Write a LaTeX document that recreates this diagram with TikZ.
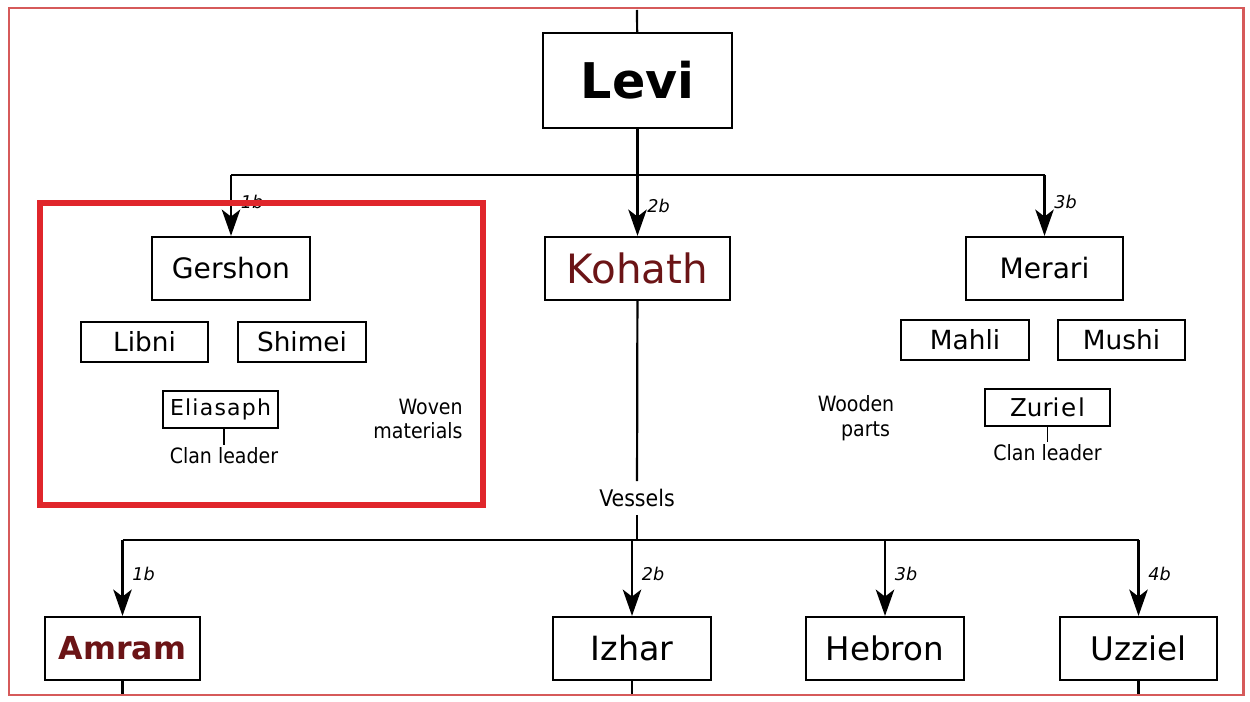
\documentclass[tikz,border=0pt]{standalone}
\usepackage{fontspec}
\setmainfont{DejaVu Sans}
\newfontfamily\narrowfont{DejaVu Sans Condensed}
\usepackage{xcolor}
\usetikzlibrary{arrows.meta,positioning}
\definecolor{framered}{HTML}{D65A5A}
\definecolor{hilite}{HTML}{E0262B}
\definecolor{clanred}{HTML}{6B1416}

\begin{document}
\begin{tikzpicture}[x=0.02cm,y=-0.02cm,line width=1.25pt,
                    >={Stealth[length=15pt,width=10.5pt,inset=4pt]},
                    person/.style={draw,rectangle,inner sep=0pt,minimum height=1.26cm},
                    small/.style={draw,rectangle,inner sep=0pt,minimum height=0.8cm,
                                  font=\fontsize{15}{17}\selectfont},
                    note/.style={align=center,inner sep=1pt,
                                 font=\narrowfont\fontsize{12}{14}\selectfont},
                    tag/.style={right,pos=0.45,inner sep=5pt,
                                font=\itshape\fontsize{10}{12}\selectfont}]
    \useasboundingbox (0,0) rectangle (1250,702);

    % top of the tree
    \coordinate (top) at (637,10);
    \node[draw,inner sep=0pt,minimum width=3.78cm,minimum height=1.9cm,
          font=\bfseries\fontsize{28}{30}\selectfont] (Levi) at (637.5,80.5) {Levi};

    % sons of Levi
    \node[person,minimum width=3.16cm,font=\fontsize{16}{18}\selectfont] (Gershon) at (231,268.5) {Gershon};
    \node[person,minimum width=3.7cm,text=clanred,font=\fontsize{23}{25}\selectfont] (Kohath) at (637.5,268.5) {Kohath};
    \node[person,minimum width=3.14cm,font=\fontsize{16}{18}\selectfont] (Merari) at (1044.5,268.5) {Merari};
    \coordinate (bar1) at (637,175);

    \draw (top) -- (Levi);
    \draw (bar1 -| Gershon) -- (bar1 -| Merari);
    \draw[->] (bar1 -| Gershon) -- node[tag] {1b} (Gershon.north);
    \draw[->] (Levi.south) -- node[tag,pos=0.72] {2b} (Kohath.north);
    \draw[->] (bar1 -| Merari) -- node[tag] {3b} (Merari.north);

    % Gershon clans
    \node[small,minimum width=2.54cm] (Libni) at (144.5,342) {Libni};
    \node[small,minimum width=2.56cm] (Shimei) at (302,342) {Shimei};
    \node[draw,inner sep=0pt,minimum width=2.3cm,minimum height=0.74cm,
          font=\fontsize{12.5}{15}\selectfont] (Eliasaph) at (220.5,409.5)
          {E\kern.7pt l\kern.7pt i\kern.7pt a\kern.7pt s\kern.7pt a\kern.7pt p\kern.7pt h};
    \node[note,anchor=north] (lead1) at (224,445) {Clan leader};
    \draw[line width=0.9pt] (Eliasaph.south -| lead1) -- (lead1);
    \node[note] (woven) at (418,419) {\hspace*{1.2em}Woven\\materials};

    % Merari clans
    \node[small,minimum width=2.56cm] (Mahli) at (965,340) {Mahli};
    \node[small,minimum width=2.54cm] (Mushi) at (1121.5,340) {Mushi};
    \node[draw,inner sep=0pt,minimum width=2.5cm,minimum height=0.74cm,
          font=\fontsize{14}{16}\selectfont] (Zuriel) at (1047.5,407.5) {Zuri\kern1pt e\kern1pt l};
    \node[note,anchor=north] (lead2) at (1047.5,442) {Clan leader};
    \draw[line width=0.9pt] (Zuriel) -- (lead2);
    \node[note] (wooden) at (856,418) {Wooden\\\hspace*{0.9em}parts};

    % Kohath line
    \node[note,font=\narrowfont\fontsize{13}{15}\selectfont,inner sep=4pt] (Vessels) at (637,498) {Vessels};
    \coordinate (bar2) at (637,540);
    \draw (Kohath) -- (Vessels);
    \draw (Vessels) -- (bar2);

    % sons of Kohath
    \node[person,minimum width=3.1cm,text=clanred,font=\bfseries\fontsize{18}{20}\selectfont] (Amram) at (122.5,648.5) {Amram};
    \node[person,minimum width=3.16cm,font=\fontsize{19}{21}\selectfont] (Izhar) at (632,648.5) {Izhar};
    \node[person,minimum width=3.16cm,font=\fontsize{18.5}{21}\selectfont] (Hebron) at (885,648.5) {Hebron};
    \node[person,minimum width=3.14cm,font=\fontsize{18.5}{21}\selectfont] (Uzziel) at (1138.5,648.5) {Uzziel};

    \draw (bar2 -| Amram) -- (bar2 -| Uzziel);
    \draw[->] (bar2 -| Amram) -- node[tag] {1b} (Amram.north);
    \draw[->] (bar2 -| Izhar) -- node[tag] {2b} (Izhar.north);
    \draw[->] (bar2 -| Hebron) -- node[tag] {3b} (Hebron.north);
    \draw[->] (bar2 -| Uzziel) -- node[tag] {4b} (Uzziel.north);

    % lines running on below
    \coordinate (end1) at (122.5,695);
    \coordinate (end2) at (632,695);
    \coordinate (end3) at (1138.5,695);
    \draw (Amram) -- (end1);
    \draw (Izhar) -- (end2);
    \draw (Uzziel) -- (end3);

    % highlight and frame
    \draw[hilite,line width=3.4pt] (40,203) rectangle (483,505);
    \draw[framered,line width=1.7pt] (9,8) rectangle (1243,695);
\end{tikzpicture}
\end{document}
